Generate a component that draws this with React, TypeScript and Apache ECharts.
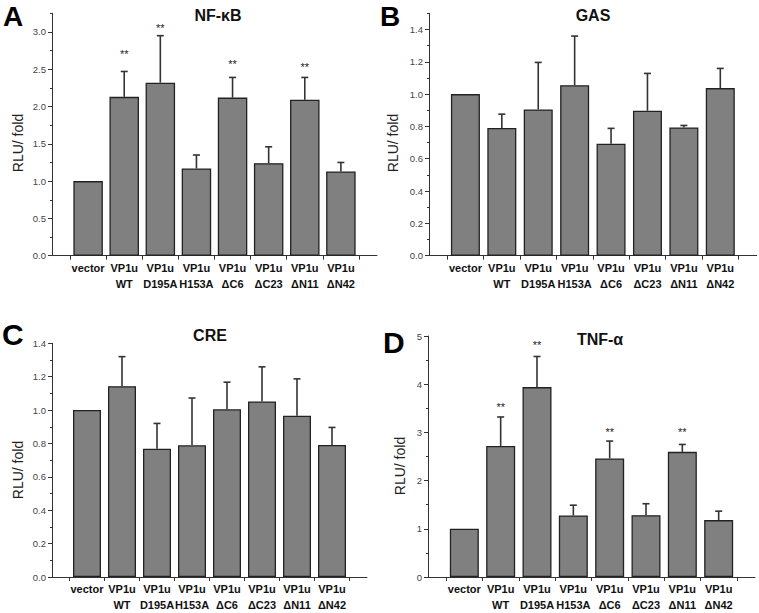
import { useEffect, useRef } from 'react';
import * as echarts from 'echarts';

const categories = ['vector', 'VP1u\nWT', 'VP1u\nD195A', 'VP1u\nH153A', 'VP1u\nΔC6', 'VP1u\nΔC23', 'VP1u\nΔN11', 'VP1u\nΔN42'];

const nfkbMean = [1.0, 2.13, 2.32, 1.17, 2.12, 1.24, 2.09, 1.13];
const nfkbUpper = [null, 2.47, 2.95, 1.35, 2.39, 1.46, 2.39, 1.25];
const nfkbStars = [null, 2.74, 3.09, null, 2.6, null, 2.56, null];

const gasMean = [1.0, 0.79, 0.905, 1.055, 0.693, 0.897, 0.794, 1.037];
const gasUpper = [null, 0.876, 1.196, 1.359, 0.788, 1.128, 0.806, 1.159];
const gasStars = [null, null, null, null, null, null, null, null];

const creMean = [1.0, 1.143, 0.769, 0.789, 1.005, 1.052, 0.966, 0.791];
const creUpper = [null, 1.32, 0.92, 1.072, 1.167, 1.259, 1.187, 0.896];
const creStars = [null, null, null, null, null, null, null, null];

const tnfMean = [1.0, 2.72, 3.94, 1.277, 2.46, 1.283, 2.596, 1.18];
const tnfUpper = [null, 3.32, 4.575, 1.49, 2.82, 1.52, 2.75, 1.366];
const tnfStars = [null, 3.57, 4.87, null, 3.07, null, 3.06, null];

const FONT = 'Liberation Sans, Arial, sans-serif';

const panels = [
  { letter: 'A', title: 'NF-κB', mean: nfkbMean, upper: nfkbUpper, stars: nfkbStars, max: 3.25, major: 0.5, minor: 0.25, digits: 1,
    grid: { left: 52, top: 13.3, width: 325, height: 242.4 }, barWidth: 29.5, letterPos: [3, 16], letterSize: 28, titlePos: [218, 15], namePos: [18, 143] },
  { letter: 'B', title: 'GAS', mean: gasMean, upper: gasUpper, stars: gasStars, max: 1.5, major: 0.2, minor: 0.1, digits: 1,
    grid: { left: 429, top: 13.3, width: 327.7, height: 242.4 }, barWidth: 29, letterPos: [380, 16], letterSize: 28, titlePos: [593, 15], namePos: [393, 143] },
  { letter: 'C', title: 'CRE', mean: creMean, upper: creUpper, stars: creStars, max: 1.4, major: 0.2, minor: 0.1, digits: 1,
    grid: { left: 52, top: 343.3, width: 315, height: 234.4 }, barWidth: 28, letterPos: [2, 334], letterSize: 30, titlePos: [210, 335], namePos: [18, 470] },
  { letter: 'D', title: 'TNF-α', mean: tnfMean, upper: tnfUpper, stars: tnfStars, max: 5, major: 1, minor: 0.5, digits: 0,
    grid: { left: 428, top: 336, width: 327, height: 241.7 }, barWidth: 29, letterPos: [383, 342.5], letterSize: 30, titlePos: [600, 339], namePos: [400, 466] },
];

function range(start: number, end: number, step: number) {
  const out: number[] = [];
  const n = Math.round((end - start) / step);
  for (let i = 0; i <= n; i++) out.push(Math.round((start + i * step) * 1000) / 1000);
  return out;
}

export default function App() {
  const ref = useRef<HTMLDivElement>(null);
  useEffect(() => {
    if (!ref.current) return;
    const chart = echarts.init(ref.current, null, { renderer: 'svg' });
    const grid: any[] = [];
    const xAxis: any[] = [];
    const yAxis: any[] = [];
    const series: any[] = [];
    const graphic: any[] = [];

    panels.forEach((p, k) => {
      grid.push({ ...p.grid });
      xAxis.push({
        type: 'value', gridIndex: k, min: 0, max: 9, interval: 1,
        splitLine: { show: false },
        axisLine: { show: true, lineStyle: { color: '#333', width: 1 } },
        axisTick: { show: true, length: 4, customValues: range(0.5, 8.5, 1), lineStyle: { color: '#333' } },
        axisLabel: {
          customValues: range(1, 8, 1),
          formatter: (v: number) => categories[Math.round(v) - 1] ?? '',
          fontFamily: FONT, fontSize: 11, fontWeight: 'bold', color: '#111', lineHeight: 16, margin: 4,
        },
      });
      const majors = range(0, Math.floor(p.max / p.major + 1e-9) * p.major, p.major);
      yAxis.push({
        type: 'value', gridIndex: k, min: 0, max: p.max, interval: p.major,
        splitLine: { show: false },
        axisLine: { show: true, lineStyle: { color: '#333', width: 1 } },
        axisTick: { show: true, length: 4, customValues: majors, lineStyle: { color: '#333' } },
        axisLabel: {
          customValues: majors,
          formatter: (v: number) => v.toFixed(p.digits),
          fontFamily: FONT, fontSize: 9.5, color: '#444', margin: 6,
        },
      });
      yAxis.push({
        type: 'value', gridIndex: k, min: 0, max: p.max, interval: p.minor, position: 'left',
        splitLine: { show: false },
        axisLine: { show: false },
        axisTick: { show: true, length: 2, lineStyle: { color: '#333' } },
        axisLabel: { show: false },
      });
      series.push({
        type: 'bar', xAxisIndex: k, yAxisIndex: 2 * k, barWidth: p.barWidth,
        data: p.mean.map((v, i) => [i + 1, v]),
        itemStyle: { color: '#808080', borderColor: '#222', borderWidth: 1.3 },
        z: 2,
      });
      series.push({
        type: 'custom', xAxisIndex: k, yAxisIndex: 2 * k, z: 3,
        encode: { x: 0, y: 1 },
        data: p.mean.map((v, i) => [i + 1, v, p.upper[i] ?? v]),
        renderItem: (params: any, api: any) => {
          const i = params.dataIndex;
          const x = api.value(0);
          const v = api.value(1);
          const e = api.value(2);
          const children: any[] = [];
          if (p.upper[i] != null) {
            const p0 = api.coord([x, v]);
            const p1 = api.coord([x, e]);
            children.push({ type: 'line', shape: { x1: p0[0], y1: p0[1], x2: p1[0], y2: p1[1] }, style: { stroke: '#333', lineWidth: 1.6 } });
            children.push({ type: 'line', shape: { x1: p1[0] - 3.5, y1: p1[1], x2: p1[0] + 3.5, y2: p1[1] }, style: { stroke: '#333', lineWidth: 1.6 } });
          }
          const s = p.stars[i];
          if (s != null) {
            const ps = api.coord([x, s]);
            children.push({ type: 'text', x: ps[0], y: ps[1] + 2.5, style: { text: '**', fill: '#222', font: `11px ${FONT}`, textAlign: 'center', textVerticalAlign: 'middle' } });
          }
          return { type: 'group', children };
        },
      });
      graphic.push({ type: 'text', x: p.letterPos[0], y: p.letterPos[1], style: { text: p.letter, fill: '#000', font: `bold ${p.letterSize}px ${FONT}`, textAlign: 'left', textVerticalAlign: 'middle' } });
      graphic.push({ type: 'text', x: p.titlePos[0], y: p.titlePos[1], style: { text: p.title, fill: '#111', font: `bold 16px ${FONT}`, textAlign: 'center', textVerticalAlign: 'middle' } });
      graphic.push({ type: 'text', x: p.namePos[0], y: p.namePos[1], rotation: Math.PI / 2, style: { text: 'RLU/ fold', fill: '#222', font: `14px ${FONT}`, textAlign: 'center', textVerticalAlign: 'middle' } });
    });

    chart.setOption({
      animation: false,
      backgroundColor: '#fff',
      grid, xAxis, yAxis, series, graphic,
    });
    return () => chart.dispose();
  }, []);
  return <div ref={ref} style={{ position: 'absolute', left: 0, top: 0, width: 759, height: 613 }} />;
}
